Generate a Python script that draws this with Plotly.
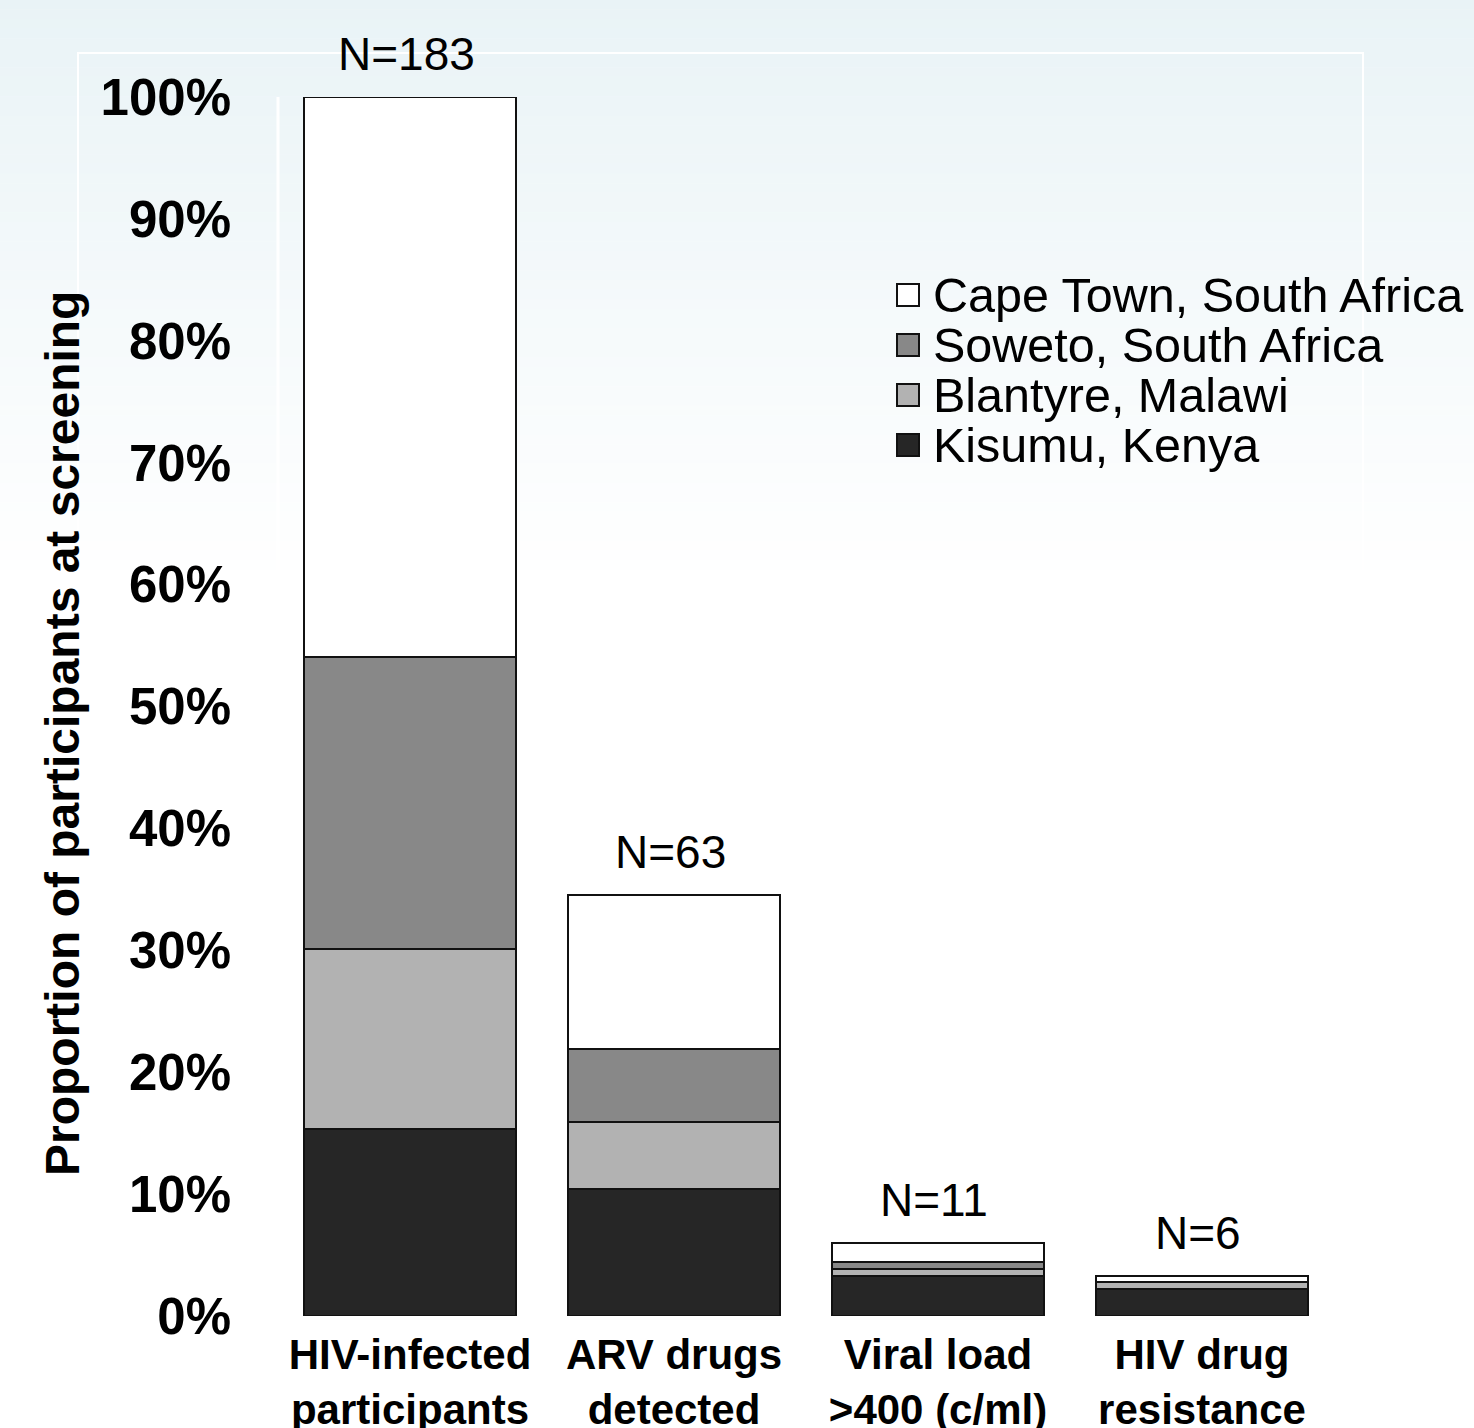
import plotly.graph_objects as go

# ---- data (percent of HIV-infected participants at screening) ----
categories = ["HIV-infected<br>participants", "ARV drugs<br>detected",
              "Viral load<br>>400 (c/ml)", "HIV drug<br>resistance"]
n_labels = ["N=183", "N=63", "N=11", "N=6"]

kisumu = [15.3, 10.4, 3.3, 2.2]
blantyre = [14.8, 5.5, 0.55, 0.55]
soweto = [24.0, 6.0, 0.55, 0.0]
cape_town = [45.9, 12.6, 1.6, 0.55]

y_ticks = [0, 10, 20, 30, 40, 50, 60, 70, 80, 90, 100]
y_tick_labels = ["0%", "10%", "20%", "30%", "40%", "50%", "60%", "70%", "80%", "90%", "100%"]

series = [
    ("Kisumu, Kenya", kisumu, "#262626"),
    ("Blantyre, Malawi", blantyre, "#b2b2b2"),
    ("Soweto, South Africa", soweto, "#888888"),
    ("Cape Town, South Africa", cape_town, "#ffffff"),
]
y_title = "Proportion of participants at screening"

FONT = "Liberation Sans, Arial, sans-serif"
W, H = 1474, 1428
ML, MR, MT, MB = 278, 140, 97, 112
PW, PH = W - ML - MR, H - MT - MB


def px_to_paper_x(px):
    return (px - ML) / PW


def px_to_paper_y(py):
    return (H - MB - py) / PH


fig = go.Figure()
for name, vals, color in series:
    fig.add_trace(go.Bar(
        x=list(range(len(categories))), y=vals, name=name, showlegend=False,
        marker=dict(color=color, line=dict(color="#111111", width=2)),
    ))

# N labels above bars
totals = [sum(v) for v in zip(kisumu, blantyre, soweto, cape_town)]
for i, (lab, tot) in enumerate(zip(n_labels, totals)):
    fig.add_annotation(x=i, y=tot, text=lab, showarrow=False, xshift=-4,
                       yshift=43, yanchor="middle",
                       font=dict(family=FONT, size=46, color="#000000"))

# y-axis title (placed as in the original slide, slightly below centre)
fig.add_annotation(xref="paper", yref="paper", x=px_to_paper_x(62), y=px_to_paper_y(734),
                   text=y_title, textangle=-90, showarrow=False,
                   xanchor="center", yanchor="middle",
                   font=dict(family=FONT, size=48, color="#000000", weight="bold"))

shapes = []
# background gradient (slide style) + faint white frame lines
n_bands = 60
grad_end = 580
top_rgb = (233, 243, 246)
for k in range(n_bands):
    y0p = grad_end * k / n_bands
    y1p = grad_end * (k + 1) / n_bands
    t = (k + 0.5) / n_bands
    c = tuple(round(top_rgb[j] + (255 - top_rgb[j]) * t) for j in range(3))
    shapes.append(dict(type="rect", xref="paper", yref="paper", layer="below",
                       x0=px_to_paper_x(0), x1=px_to_paper_x(W),
                       y0=px_to_paper_y(y1p), y1=px_to_paper_y(y0p - 0.5),
                       fillcolor="rgb(%d,%d,%d)" % c, line=dict(width=0)))
shapes.append(dict(type="rect", xref="paper", yref="paper", layer="below",
                   x0=px_to_paper_x(78), x1=px_to_paper_x(1363),
                   y0=px_to_paper_y(H + 20), y1=px_to_paper_y(53),
                   line=dict(color="white", width=2), fillcolor="rgba(0,0,0,0)"))
shapes.append(dict(type="line", xref="paper", yref="paper", layer="below",
                   x0=px_to_paper_x(278), x1=px_to_paper_x(278),
                   y0=px_to_paper_y(H + 20), y1=px_to_paper_y(97),
                   line=dict(color="white", width=3)))

# legend (Cape Town on top, as in the original)
leg_x_box, leg_x_text, leg_y0, leg_dy, box = 897, 931, 295, 50, 22
for r, (name, vals, color) in enumerate(reversed(series)):
    yc = leg_y0 + r * leg_dy
    shapes.append(dict(type="rect", xref="paper", yref="paper", layer="above",
                       x0=px_to_paper_x(leg_x_box), x1=px_to_paper_x(leg_x_box + box),
                       y0=px_to_paper_y(yc + box / 2), y1=px_to_paper_y(yc - box / 2),
                       fillcolor=color, line=dict(color="#111111", width=2)))
    fig.add_annotation(xref="paper", yref="paper", x=px_to_paper_x(leg_x_text),
                       y=px_to_paper_y(yc), text=name, showarrow=False,
                       xanchor="left", yanchor="middle",
                       font=dict(family=FONT, size=48.5, color="#000000"))

fig.update_layout(
    width=W, height=H,
    margin=dict(l=ML, r=MR, t=MT, b=MB, autoexpand=False),
    paper_bgcolor="#ffffff", plot_bgcolor="rgba(0,0,0,0)",
    barmode="stack", bargap=0.197,
    shapes=shapes,
    showlegend=False,
    font=dict(family=FONT, color="#000000"),
)
fig.update_xaxes(
    range=[-0.5, len(categories) - 0.5],
    tickmode="array", tickvals=list(range(len(categories))), ticktext=categories,
    tickfont=dict(family=FONT, size=42, color="#000000", weight="bold"),
    showgrid=False, zeroline=False, showline=False, ticks="",
    ticklabelstandoff=10,
)
fig.update_yaxes(
    range=[0, 100], tickmode="array", tickvals=y_ticks, ticktext=y_tick_labels,
    tickfont=dict(family=FONT, size=51, color="#000000", weight="bold"),
    showgrid=False, zeroline=False, showline=False, ticks="",
    ticklabelstandoff=46,
)

fig.write_html("out.html")
